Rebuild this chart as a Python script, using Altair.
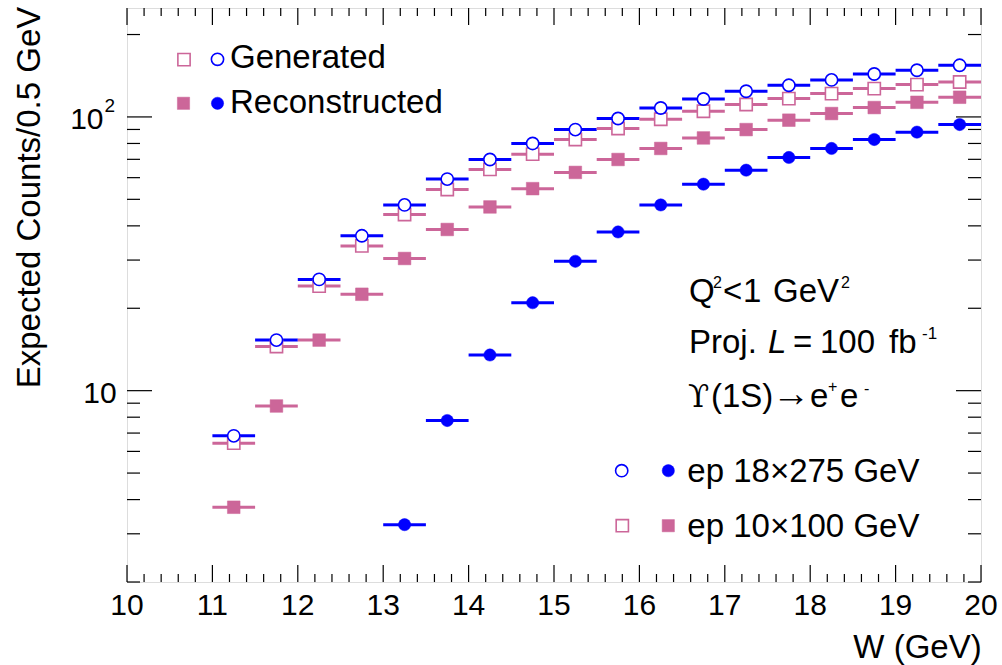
import altair as alt
import pandas as pd

FONT = "Liberation Sans"
BLUE = "#0000ff"
PINK = "#cc6699"

# ---------------- data ----------------
W_BINS = [11.25, 11.75, 12.25, 12.75, 13.25, 13.75, 14.25, 14.75, 15.25,
          15.75, 16.25, 16.75, 17.25, 17.75, 18.25, 18.75, 19.25, 19.75]
GEN_18x275 = [6.84, 15.3, 25.5, 36.8, 47.7, 59.3, 69.9, 80.0, 89.9,
              98.7, 107.8, 116.3, 124.1, 130.5, 136.5, 143.5, 148.1, 154.4]
GEN_10x100 = [6.43, 14.5, 24.1, 33.8, 44.0, 54.3, 64.3, 73.1, 82.7,
              90.7, 98.1, 104.9, 111.0, 116.7, 121.7, 126.9, 131.3, 134.2]
REC_10x100 = [3.75, 8.79, 15.3, 22.5, 30.4, 38.8, 46.9, 54.7, 62.7,
              69.9, 76.7, 83.8, 89.9, 97.3, 102.9, 108.2, 113.1, 118.0]
W_REC_18x275 = [13.25, 13.75, 14.25, 14.75, 15.25, 15.75, 16.25, 16.75,
                17.25, 17.75, 18.25, 18.75, 19.25, 19.75]
REC_18x275 = [3.24, 7.78, 13.5, 20.95, 29.7, 38.0, 47.7, 56.8, 63.9,
              71.1, 76.7, 82.7, 88.0, 93.8]
BIN_HALF_WIDTH = 0.25

X_TICKS_MAJOR = list(range(10, 21))
X_TICK_LABELS = [str(v) for v in X_TICKS_MAJOR]
X_TICKS_MINOR = [round(10 + 0.2 * i, 1) for i in range(51) if i % 5 != 0]
Y_TICKS_MAJOR = [10, 100]
Y_TICK_BASE = ["10", "10"]
Y_TICK_EXP = ["", "2"]
Y_TICKS_MINOR = [2, 3, 4, 5, 6, 7, 8, 9, 20, 30, 40, 50, 60, 70, 80, 90, 200]

# ---------------- frames ----------------
def series(ws, vs, beam, kind):
    return pd.DataFrame({"W": ws, "v": vs, "beam": beam, "kind": kind})

df = pd.concat([
    series(W_BINS, GEN_18x275, "18x275", "gen"),
    series(W_BINS, GEN_10x100, "10x100", "gen"),
    series(W_BINS, REC_10x100, "10x100", "rec"),
    series(W_REC_18x275, REC_18x275, "18x275", "rec"),
], ignore_index=True)

W_PX, H_PX = 854, 574
xscale = alt.Scale(domain=[10, 20], nice=False, zero=False)
yscale = alt.Scale(type="log", domain=[2, 250], nice=False)
cscale = alt.Scale(domain=["18x275", "10x100"], range=[BLUE, PINK])

base = alt.Chart(df).transform_calculate(
    lo=f"datum.W - {BIN_HALF_WIDTH}", hi=f"datum.W + {BIN_HALF_WIDTH}")

bars = base.mark_rule(strokeWidth=3).encode(
    x=alt.X("lo:Q", scale=xscale, axis=None),
    x2="hi:Q",
    y=alt.Y("v:Q", scale=yscale, axis=None),
    color=alt.Color("beam:N", scale=cscale, legend=None),
)

def pts(beam, kind, shape, filled, size):
    c = BLUE if beam == "18x275" else PINK
    mk = dict(shape=shape, size=size, opacity=1)
    if filled:
        mk.update(filled=True, fill=c, stroke=c, strokeWidth=0.5)
    else:
        mk.update(filled=False, fill="white", fillOpacity=1, stroke=c, strokeWidth=1.6)
    return base.transform_filter(
        (alt.datum.beam == beam) & (alt.datum.kind == kind)
    ).mark_point(**mk).encode(
        x=alt.X("W:Q", scale=xscale, axis=None),
        y=alt.Y("v:Q", scale=yscale, axis=None),
    )

markers = [
    pts("10x100", "gen", "square", False, 150),
    pts("18x275", "gen", "circle", False, 150),
    pts("10x100", "rec", "square", True, 160),
    pts("18x275", "rec", "circle", True, 150),
]

# ---------------- inward tick marks and tick labels (ROOT style) ----------------
def xticks(vals, length):
    d = pd.DataFrame({"t": vals})
    bot = alt.Chart(d).mark_rule(color="black", strokeWidth=1.2).encode(
        x=alt.X("t:Q", scale=xscale, axis=None),
        y=alt.value(H_PX), y2=alt.value(H_PX - length))
    top = alt.Chart(d).mark_rule(color="black", strokeWidth=1.2).encode(
        x=alt.X("t:Q", scale=xscale, axis=None),
        y=alt.value(0), y2=alt.value(length))
    return [bot, top]

def yticks(vals, length):
    d = pd.DataFrame({"t": vals})
    left = alt.Chart(d).mark_rule(color="black", strokeWidth=1.2).encode(
        y=alt.Y("t:Q", scale=yscale, axis=None),
        x=alt.value(0), x2=alt.value(length))
    right = alt.Chart(d).mark_rule(color="black", strokeWidth=1.2).encode(
        y=alt.Y("t:Q", scale=yscale, axis=None),
        x=alt.value(W_PX), x2=alt.value(W_PX - length))
    return [left, right]

ticks = (xticks(X_TICKS_MAJOR, 17) + xticks(X_TICKS_MINOR, 8)
         + yticks(Y_TICKS_MAJOR, 25) + yticks(Y_TICKS_MINOR, 13))

xlab = alt.Chart(pd.DataFrame({"t": X_TICKS_MAJOR, "lab": X_TICK_LABELS})).mark_text(
    font=FONT, fontSize=30, align="center", baseline="alphabetic", color="black"
).encode(x=alt.X("t:Q", scale=xscale, axis=None), y=alt.value(H_PX + 33),
         text="lab:N")

ydf = pd.DataFrame({"t": Y_TICKS_MAJOR, "lab": Y_TICK_BASE, "sup": Y_TICK_EXP})
ylab_plain = alt.Chart(ydf).transform_filter(alt.datum.sup == "").mark_text(
    font=FONT, fontSize=30, align="right", baseline="alphabetic", color="black",
    dy=12.5
).encode(y=alt.Y("t:Q", scale=yscale, axis=None), x=alt.value(-10.3),
         text="lab:N")
ylab_exp_base = alt.Chart(ydf).transform_filter(alt.datum.sup != "").mark_text(
    font=FONT, fontSize=30, align="right", baseline="alphabetic", color="black",
    dy=12.5
).encode(y=alt.Y("t:Q", scale=yscale, axis=None), x=alt.value(-23.5),
         text="lab:N")
ylab_exp = alt.Chart(ydf).transform_filter(alt.datum.sup != "").mark_text(
    font=FONT, fontSize=19, align="left", baseline="alphabetic", color="black",
    dy=-4.5
).encode(y=alt.Y("t:Q", scale=yscale, axis=None), x=alt.value(-22.5),
         text="sup:N")

# ---------------- annotations ----------------
one = pd.DataFrame({"a": [0]})

def txt(s, x, y, size=33, align="left", baseline="alphabetic", italic=False,
        angle=0, font=FONT):
    kw = dict(text=s, fontSize=size, font=font, align=align, baseline=baseline,
              color="black", angle=angle)
    if italic:
        kw["fontStyle"] = "italic"
    return alt.Chart(one).mark_text(**kw).encode(x=alt.value(x), y=alt.value(y))

def sym(x, y, shape, color, filled, size=150):
    if filled:
        mk = dict(shape=shape, size=size, filled=True, fill=color, stroke=color,
                  strokeWidth=0.5, opacity=1)
    else:
        mk = dict(shape=shape, size=size, filled=False, fill="white", fillOpacity=1,
                  stroke=color, strokeWidth=1.6, opacity=1)
    return alt.Chart(one).mark_point(**mk).encode(x=alt.value(x), y=alt.value(y))

annots = [
    # top-left legend
    sym(57, 51.6, "square", PINK, False), sym(90.5, 51.3, "circle", BLUE, False),
    txt("Generated", 103, 60.3),
    sym(56.5, 95.3, "square", PINK, True), sym(90.5, 95.3, "circle", BLUE, True),
    txt("Reconstructed", 103, 105.3),
    # bottom-right legend
    sym(494.7, 462.7, "circle", BLUE, False), sym(541.3, 462.7, "circle", BLUE, True),
    txt("ep 18\u00d7275 GeV", 560.3, 473.7),
    sym(495.3, 517.7, "square", PINK, False), sym(541.3, 517.7, "square", PINK, True),
    txt("ep 10\u00d7100 GeV", 560.3, 528.7),
    # text block line 1
    txt("Q", 562, 293.7), txt("2", 586, 279.5, size=16),
    txt("<", 596, 293.7), txt("1", 616, 293.7), txt("GeV", 646, 293.7),
    txt("2", 714, 279.5, size=16),
    # line 2
    txt("Proj.", 562, 345.3), txt("L", 641, 345.3, italic=True),
    txt("=", 666, 345.3), txt("100", 693, 345.3), txt("fb", 762, 345.3),
    txt("-1", 795, 331, size=17),
    # line 3
    txt("\u03d2", 561, 398.7, font="DejaVu Serif", size=31),
    txt("(1S)", 584, 398.7),
    txt("\u2192", 645, 398, font="Liberation Serif", size=38),
    txt("e", 683, 398.7), txt("+", 701, 384, size=16),
    txt("e", 713, 398.7), txt("-", 737, 386, size=16),
    # axis titles
    txt("W (GeV)", W_PX + 0.7, 650.3, align="right"),
    txt("Expected Counts/0.5 GeV", -87, -1.3, align="right", angle=270),
]

chart = alt.layer(bars, *markers, *ticks, xlab, ylab_plain, ylab_exp_base,
                  ylab_exp, *annots).properties(
    width=W_PX, height=H_PX,
    autosize=alt.AutoSizeParams(type="none"),
    padding={"left": 127, "top": 8, "right": 21, "bottom": 83},
).configure_view(stroke="black", strokeWidth=2).configure(background="white")

chart.save("out.html", embed_options={"renderer": "svg", "actions": False})
